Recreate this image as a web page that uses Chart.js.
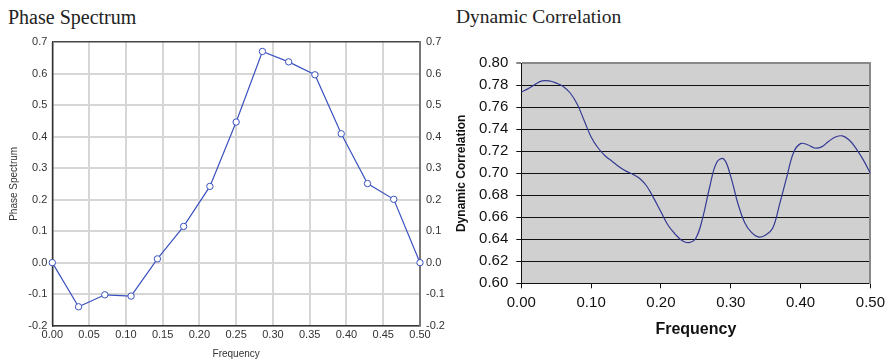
<!DOCTYPE html>
<html>
<head>
<meta charset="utf-8">
<script src="https://cdn.jsdelivr.net/npm/chart.js@4/dist/chart.umd.min.js"></script>
<style>
    html, body { margin: 0; padding: 0; background: #fff; }
    body { width: 891px; height: 360px; position: relative; overflow: hidden; }
    .title {
        position: absolute;
        top: 7px;
        font-family: 'Liberation Serif', 'Times New Roman', serif;
        font-size: 20px;
        line-height: 20px;
        color: #222;
        white-space: nowrap;
    }
    .box { position: absolute; top: 0; height: 360px; }
</style>
</head>
<body>
<div class="title" style="left:8px;">Phase Spectrum</div>
<div class="title" style="left:456px; font-size:19.5px;">Dynamic Correlation</div>
<div class="box" style="left:0; width:450px;"><canvas id="phaseChart" width="450" height="360"></canvas></div>
<div class="box" style="left:445px; width:446px;"><canvas id="corrChart" width="446" height="360"></canvas></div>
<script>
// Phase spectrum (left)
const phaseFreq = [0, 0.0357, 0.0714, 0.1071, 0.1429, 0.1786, 0.2143, 0.25,
                   0.2857, 0.3214, 0.3571, 0.3929, 0.4286, 0.4643, 0.5];
const phaseValues = [0.0, -0.140, -0.102, -0.106, 0.012, 0.115, 0.242, 0.446,
                     0.670, 0.637, 0.596, 0.409, 0.251, 0.201, 0.0];

// Dynamic correlation (right)
const corrFreq = [0.00, 0.01, 0.02, 0.03, 0.04, 0.05, 0.06, 0.07, 0.08, 0.09,
                  0.10, 0.11, 0.12, 0.13, 0.14, 0.15, 0.16, 0.17, 0.18, 0.19,
                  0.20, 0.21, 0.22, 0.23, 0.24, 0.25, 0.26, 0.27, 0.28, 0.29,
                  0.30, 0.31, 0.32, 0.33, 0.34, 0.35, 0.36, 0.37, 0.38, 0.39,
                  0.40, 0.41, 0.42, 0.43, 0.44, 0.45, 0.46, 0.47, 0.48, 0.49, 0.50];
const corrValues = [0.774, 0.777, 0.781, 0.784, 0.784, 0.782, 0.779, 0.773, 0.763, 0.748,
                    0.733, 0.723, 0.716, 0.711, 0.706, 0.702, 0.699, 0.695, 0.688, 0.677,
                    0.665, 0.653, 0.645, 0.639, 0.637, 0.641, 0.660, 0.688, 0.710, 0.713,
                    0.697, 0.673, 0.655, 0.646, 0.642, 0.644, 0.650, 0.672, 0.696, 0.719,
                    0.727, 0.726, 0.723, 0.724, 0.729, 0.733, 0.734, 0.730, 0.722, 0.712, 0.700];

const phaseTicksY = { min: -0.2, max: 0.7, step: 0.1 };
const phaseTicksX = { min: 0, max: 0.5, step: 0.05 };
const corrTicksY = { min: 0.6, max: 0.8, step: 0.02 };
const corrTicksX = { min: 0, max: 0.5, step: 0.1 };

const sansFont = "'Liberation Sans', Arial, sans-serif";

// fills the plot area (used for the grey panel)
const plotBackground = {
    id: 'plotBackground',
    beforeDraw(chart, args, opts) {
        if (!opts.color) return;
        const a = chart.chartArea;
        const ctx = chart.ctx;
        ctx.save();
        ctx.fillStyle = opts.color;
        ctx.fillRect(a.left, a.top, a.right - a.left, a.bottom - a.top);
        ctx.restore();
    }
};

function toPoints(xs, ys) {
    return xs.map((x, i) => ({ x: x, y: ys[i] }));
}

function initializePhaseChart() {
    const ctx = document.getElementById('phaseChart');
    new Chart(ctx, {
        type: 'line',
        data: {
            datasets: [{
                data: toPoints(phaseFreq, phaseValues),
                borderColor: '#3a52bf',
                borderWidth: 1.2,
                pointRadius: 3.2,
                pointBackgroundColor: '#fff',
                pointBorderColor: '#3a52bf',
                pointBorderWidth: 1,
                tension: 0
            }]
        },
        options: {
            responsive: false,
            animation: false,
            clip: false,
            layout: { padding: { top: 42, left: 0, right: 0, bottom: 0 } },
            plugins: { legend: { display: false }, tooltip: { enabled: false } },
            scales: {
                x: {
                    type: 'linear',
                    min: phaseTicksX.min,
                    max: phaseTicksX.max,
                    afterFit: s => { s.height = 34.3; },
                    afterBuildTicks: s => {
                        s.ticks = [];
                        for (let i = 0; i <= 10; i++) s.ticks.push({ value: +(i * phaseTicksX.step).toFixed(2) });
                    },
                    ticks: {
                        callback: v => v.toFixed(2),
                        color: '#333',
                        font: { family: sansFont, size: 11 },
                        padding: 3,
                        maxRotation: 0,
                        autoSkip: false
                    },
                    grid: {
                        color: '#d6d6d6',
                        lineWidth: 2,
                        drawTicks: false
                    },
                    border: { display: true, color: '#333', width: 1.5 },
                    title: {
                        display: true,
                        text: 'Frequency',
                        color: '#333',
                        font: { family: sansFont, size: 10 },
                        padding: { top: 0, bottom: 0 }
                    }
                },
                y: {
                    type: 'linear',
                    position: 'left',
                    min: phaseTicksY.min,
                    max: phaseTicksY.max,
                    afterFit: s => { s.width = 52.3; },
                    afterBuildTicks: s => {
                        s.ticks = [];
                        for (let i = 0; i <= 9; i++) s.ticks.push({ value: +(phaseTicksY.min + i * phaseTicksY.step).toFixed(1) });
                    },
                    ticks: {
                        callback: v => v.toFixed(1),
                        color: '#333',
                        font: { family: sansFont, size: 11 },
                        padding: 5
                    },
                    grid: {
                        color: c => c.index === 9 ? '#444' : '#d6d6d6',
                        lineWidth: c => c.index === 9 ? 1.5 : 2,
                        drawTicks: false
                    },
                    border: { display: true, color: '#333', width: 1.5 },
                    title: {
                        display: true,
                        text: 'Phase Spectrum',
                        color: '#333',
                        font: { family: sansFont, size: 10 },
                        padding: { top: 8, bottom: 0 }
                    }
                },
                y2: {
                    type: 'linear',
                    position: 'right',
                    min: phaseTicksY.min,
                    max: phaseTicksY.max,
                    afterFit: s => { s.width = 30; },
                    afterBuildTicks: s => {
                        s.ticks = [];
                        for (let i = 0; i <= 9; i++) s.ticks.push({ value: +(phaseTicksY.min + i * phaseTicksY.step).toFixed(1) });
                    },
                    ticks: {
                        callback: v => v.toFixed(1),
                        color: '#333',
                        font: { family: sansFont, size: 11 },
                        padding: 6
                    },
                    grid: { drawOnChartArea: false, drawTicks: false },
                    border: { display: true, color: '#777', width: 2 }
                }
            }
        }
    });
}

function initializeCorrChart() {
    const ctx = document.getElementById('corrChart');
    new Chart(ctx, {
        type: 'line',
        data: {
            datasets: [{
                data: toPoints(corrFreq, corrValues),
                borderColor: '#343a94',
                borderWidth: 1.2,
                pointRadius: 0,
                tension: 0.4
            }]
        },
        plugins: [plotBackground],
        options: {
            responsive: false,
            animation: false,
            layout: { padding: { top: 63.3, left: 0, right: 17, bottom: 0 } },
            plugins: {
                legend: { display: false },
                tooltip: { enabled: false },
                plotBackground: { color: '#d0d0d0' }
            },
            scales: {
                x: {
                    type: 'linear',
                    min: corrTicksX.min,
                    max: corrTicksX.max,
                    afterFit: s => { s.height = 76.7; },
                    afterBuildTicks: s => {
                        s.ticks = [];
                        for (let i = 0; i <= 5; i++) s.ticks.push({ value: +(i * corrTicksX.step).toFixed(1) });
                    },
                    ticks: {
                        callback: v => v.toFixed(2),
                        color: '#111',
                        font: { family: sansFont, size: 15 },
                        padding: 6,
                        maxRotation: 0,
                        autoSkip: false
                    },
                    grid: {
                        drawOnChartArea: false,
                        drawTicks: true,
                        tickLength: 5,
                        color: '#111'
                    },
                    border: { display: true, color: '#111', width: 1 },
                    title: {
                        display: true,
                        text: 'Frequency',
                        color: '#111',
                        font: { family: sansFont, size: 16, weight: 'bold' },
                        padding: { top: 0, bottom: 21 }
                    }
                },
                y: {
                    type: 'linear',
                    position: 'left',
                    min: corrTicksY.min,
                    max: corrTicksY.max,
                    afterFit: s => { s.width = 76.3; },
                    afterBuildTicks: s => {
                        s.ticks = [];
                        for (let i = 0; i <= 10; i++) s.ticks.push({ value: +(corrTicksY.min + i * corrTicksY.step).toFixed(2) });
                    },
                    ticks: {
                        callback: v => v.toFixed(2),
                        color: '#111',
                        font: { family: sansFont, size: 15 },
                        padding: 8
                    },
                    grid: {
                        color: c => c.index === 10 ? '#888' : '#111',
                        lineWidth: c => c.index === 10 ? 2 : 1,
                        tickLength: 5
                    },
                    border: { display: true, color: '#111', width: 1 },
                    title: {
                        display: true,
                        text: 'Dynamic Correlation',
                        color: '#111',
                        font: { family: sansFont, size: 12, weight: 'bold' },
                        padding: { top: 9.5, bottom: 0 }
                    }
                },
                y2: {
                    type: 'linear',
                    position: 'right',
                    min: corrTicksY.min,
                    max: corrTicksY.max,
                    afterFit: s => { s.width = 0; },
                    ticks: { display: false },
                    grid: { display: false },
                    border: { display: true, color: '#888', width: 2 }
                }
            }
        }
    });
}

initializePhaseChart();
initializeCorrChart();
</script>
</body>
</html>
